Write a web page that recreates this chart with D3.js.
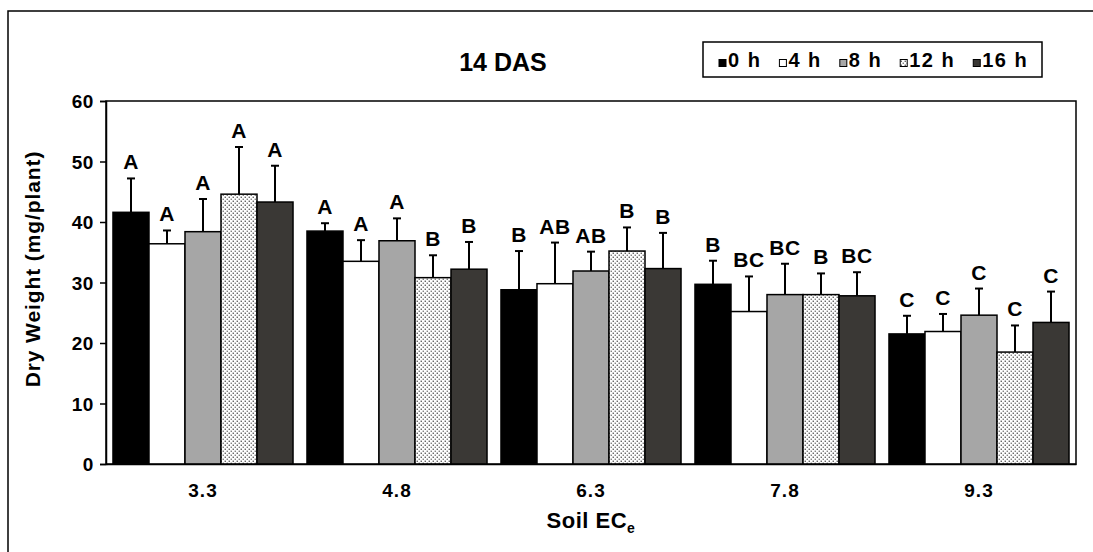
<!DOCTYPE html>
<html><head><meta charset="utf-8">
<script src="https://cdn.jsdelivr.net/npm/d3@7"></script>
<style>
html,body{margin:0;padding:0;background:#fff;}
svg text{font-family:"Liberation Sans",Arial,sans-serif;font-weight:bold;fill:#000;}
</style></head>
<body><svg id="c" width="1093" height="552"></svg>
<script>
const categories = ["3.3","4.8","6.3","7.8","9.3"];
const seriesNames = ["0 h","4 h","8 h","12 h","16 h"];
const mean0  = [41.6, 38.5, 28.8, 29.7, 21.5];
const mean4  = [36.4, 33.5, 29.8, 25.2, 21.9];
const mean8  = [38.4, 36.9, 31.9, 28.0, 24.6];
const mean12 = [44.6, 30.8, 35.2, 28.0, 18.5];
const mean16 = [43.3, 32.2, 32.3, 27.8, 23.4];
const err0  = [5.6, 1.3, 6.4, 3.9, 3.0];
const err4  = [2.2, 3.5, 6.8, 5.8, 2.9];
const err8  = [5.4, 3.7, 3.2, 5.1, 4.4];
const err12 = [7.8, 3.7, 3.9, 3.5, 4.4];
const err16 = [6.0, 4.5, 5.9, 3.9, 5.1];
const let0  = ["A","A","B","B","C"];
const let4  = ["A","A","AB","BC","C"];
const let8  = ["A","A","AB","BC","C"];
const let12 = ["A","B","B","B","C"];
const let16 = ["A","B","B","BC","C"];
const yTicks = [0,10,20,30,40,50,60];
const titleText = "14 DAS";
const yTitle = "Dry Weight (mg/plant)";

const means = [mean0, mean4, mean8, mean12, mean16];
const errs = [err0, err4, err8, err12, err16];
const lets = [let0, let4, let8, let12, let16];
const fills = ["#000000", "#ffffff", "#a6a6a6", "url(#dots)", "#3a3835"];

const svg = d3.select("#c");
const defs = svg.append("defs");
const pat = defs.append("pattern").attr("id","dots").attr("patternUnits","userSpaceOnUse")
  .attr("width",4).attr("height",4);
pat.append("rect").attr("width",4).attr("height",4).attr("fill","#fff");
pat.append("rect").attr("x",0.6).attr("y",0.6).attr("width",1.3).attr("height",1.3).attr("fill","#444");
pat.append("rect").attr("x",2.6).attr("y",2.6).attr("width",1.3).attr("height",1.3).attr("fill","#666");

// outer frame
svg.append("rect").attr("x",8).attr("y",11).attr("width",1100).attr("height",560)
  .attr("fill","none").attr("stroke","#000").attr("stroke-width",1.5);

const L = 106, T = 101, R = 1076, B = 464;
const x0 = d3.scaleBand().domain(categories).range([L, R]).paddingInner(0.072).paddingOuter(0.036);
const x1 = d3.scaleBand().domain(seriesNames).range([0, x0.bandwidth()]);
const y = d3.scaleLinear().domain([0, 60]).range([B, T]);

// plot frame
svg.append("rect").attr("x",L).attr("y",T).attr("width",R-L).attr("height",B-T)
  .attr("fill","none").attr("stroke","#000").attr("stroke-width",1.5);

// bars
const g = svg.append("g");
categories.forEach((c, ci) => {
  seriesNames.forEach((s, si) => {
    const v = means[si][ci], e = errs[si][ci];
    const bx = x0(c) + x1(s), bw = x1.bandwidth();
    const cx = bx + bw / 2;
    g.append("line").attr("x1",cx).attr("x2",cx).attr("y1",y(v)).attr("y2",y(v+e))
      .attr("stroke","#000").attr("stroke-width",2);
    g.append("line").attr("x1",cx-4).attr("x2",cx+4).attr("y1",y(v+e)).attr("y2",y(v+e))
      .attr("stroke","#000").attr("stroke-width",2);
    g.append("rect").attr("x",bx).attr("y",y(v)).attr("width",bw).attr("height",y(0)-y(v))
      .attr("fill",fills[si]).attr("stroke","#000").attr("stroke-width",1.5);
    g.append("text").attr("x",cx).attr("y",y(v+e)-9).attr("text-anchor","middle")
      .style("font-size","21px").style("letter-spacing","0.5px").text(lets[si][ci]);
  });
});

// y axis
const yAxis = d3.axisLeft(y).tickValues(yTicks).tickSize(6).tickPadding(6);
const ya = svg.append("g").attr("transform",`translate(${L},0)`).call(yAxis);
ya.select(".domain").attr("stroke","#000").attr("stroke-width",1.5);
ya.selectAll(".tick line").attr("stroke","#000").attr("stroke-width",1.5);
ya.selectAll(".tick text").style("font-size","19px").style("letter-spacing","0.6px")
  .style("font-family","'Liberation Sans',Arial,sans-serif")
  .style("font-weight","bold").attr("fill","#000").attr("dy","0.36em");

// x axis
const xAxis = d3.axisBottom(x0).tickSize(0).tickPadding(0);
const xa = svg.append("g").attr("transform",`translate(0,${B})`).call(xAxis);
xa.select(".domain").attr("stroke","#000").attr("stroke-width",1.5);
xa.selectAll(".tick text").attr("y",33).attr("dy",0).style("font-size","19px")
  .style("letter-spacing","1px")
  .style("font-family","'Liberation Sans',Arial,sans-serif").style("font-weight","bold").attr("fill","#000");

// titles
svg.append("text").attr("x",503).attr("y",71).attr("text-anchor","middle")
  .style("font-size","25px").text(titleText);
svg.append("text").attr("transform","translate(40,269) rotate(-90)").attr("text-anchor","middle")
  .style("font-size","21px").style("letter-spacing","0.9px").text(yTitle);
const xt = svg.append("text").attr("x",(L+R)/2).attr("y",528).attr("text-anchor","middle")
  .style("font-size","22px").style("letter-spacing","0.5px");
xt.append("tspan").text("Soil EC");
xt.append("tspan").attr("dy",5).style("font-size","14px").text("e");

// legend
const lg = svg.append("g");
lg.append("rect").attr("x",703).attr("y",42).attr("width",339).attr("height",35)
  .attr("fill","#fff").attr("stroke","#000").attr("stroke-width",1.5);
let lx = 719;
seriesNames.forEach((s, si) => {
  lg.append("rect").attr("x",lx).attr("y",59.5).attr("width",7).attr("height",7)
    .attr("fill",fills[si]).attr("stroke","#000").attr("stroke-width",1);
  const t = lg.append("text").attr("x",lx+9).attr("y",67).style("font-size","20px")
    .style("letter-spacing","1.5px").text(s);
  const w = t.node().getBBox().width;
  lx += 9 + w + 18;
});
</script></body></html>
